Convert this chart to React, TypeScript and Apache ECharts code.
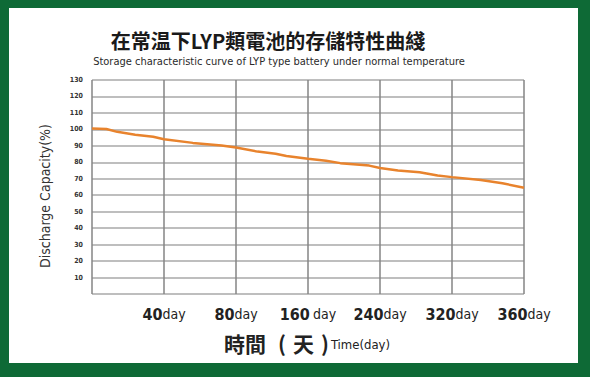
import React, { useEffect, useRef } from "react";
import * as echarts from "echarts";

const titleZh = "在常温下LYP類電池的存儲特性曲綫";
const titleEn = "Storage characteristic curve of LYP type battery under normal temperature";
const yAxisName = "Discharge Capacity(%)";
const xTickNumbers = ["", "40", "80", "160", "240", "320", "360"];
const xTickSeparators = ["", "", "", " ", "", "", ""];
const xTickUnit = "day";
// position along the (evenly spaced) time axis, in grid columns
const curvePositions = [0, 0.2, 0.35, 0.6, 0.85, 1.0, 1.4, 1.8, 2.0, 2.3, 2.55, 2.7, 3.0, 3.25, 3.45, 3.85, 4.0, 4.25, 4.55, 4.8, 5.0, 5.4, 5.7, 6.0];
const curveCapacity = [100.5, 100.2, 98.5, 96.8, 95.5, 94, 91.8, 90.2, 89, 86.5, 85.2, 83.8, 82.2, 81, 79.5, 78, 76.5, 75, 74, 72, 71, 69.2, 67.3, 64.5];

const FONT = "'Liberation Sans Narrow', 'DejaVu Sans Condensed', 'Liberation Sans', sans-serif";
const CJK = "'Noto Sans CJK TC', 'Noto Sans CJK SC', sans-serif";

export default function App() {
  const ref = useRef<HTMLDivElement>(null);
  useEffect(() => {
    if (!ref.current) return;
    const chart = echarts.init(ref.current, null, { renderer: "svg" });
    const data = curvePositions.map((p, i) => [p, curveCapacity[i]]);
    chart.setOption({
      animation: false,
      backgroundColor: "#0e6a36",
      grid: { left: 92, top: 80, right: 66, bottom: 83 },
      graphic: [
        { type: "rect", z: -10, shape: { x: 9, y: 8, width: 569, height: 355 }, style: { fill: "#ffffff" } },
        {
          type: "text", x: 268, y: 40,
          style: { text: titleZh, font: `bold 20px ${CJK}`, fill: "#1a1a1a", align: "center", verticalAlign: "middle" },
        },
        {
          type: "text", x: 279, y: 61,
          style: { text: titleEn, font: `11px ${FONT}`, fill: "#2a2a2a", align: "center", verticalAlign: "middle" },
        },
        {
          type: "text", x: 45, y: 196, rotation: Math.PI / 2,
          style: { text: yAxisName, font: `14px ${FONT}`, fill: "#333", align: "center", verticalAlign: "middle" },
        },
        {
          type: "text", x: 224, y: 343,
          style: {
            text: "{z|時間}{p|(}{t|天}{q|)}{e|Time(day)}",
            align: "left", verticalAlign: "middle",
            rich: {
              z: { font: `bold 21px ${CJK}`, fill: "#222" },
              p: { font: `bold 21px ${CJK}`, fill: "#222", padding: [0, 0, 0, 12] },
              t: { font: `bold 21px ${CJK}`, fill: "#222", padding: [0, 0, 0, 7] },
              q: { font: `bold 21px ${CJK}`, fill: "#222", padding: [0, 0, 0, 7] },
              e: { font: `13px ${FONT}`, fill: "#222", padding: [3, 0, 0, 2] },
            },
          },
        },
      ],
      xAxis: {
        type: "value", min: 0, max: 6, interval: 1,
        axisLine: { show: false }, axisTick: { show: false },
        splitLine: { show: true, lineStyle: { color: "#858585", width: 1.5 } },
        axisLabel: {
          margin: 12,
          formatter: (v: number) => {
            const i = Math.round(v);
            if (!xTickNumbers[i]) return "";
            return `{n|${xTickNumbers[i]}}${xTickSeparators[i]}{d|${xTickUnit}}`;
          },
          rich: {
            n: { fontFamily: FONT, fontWeight: "bold", fontSize: 16, color: "#222" },
            d: { fontFamily: FONT, fontSize: 14, color: "#222" },
          },
        },
      },
      yAxis: {
        type: "value", min: 0, max: 130, interval: 10,
        axisLine: { show: false }, axisTick: { show: false },
        splitLine: { show: true, lineStyle: { color: "#a8a8a8", width: 1.5 } },
        axisLabel: {
          margin: 9, fontSize: 7, fontWeight: "bold", color: "#333", fontFamily: FONT,
          formatter: (v: number) => (v === 0 ? "" : String(v)),
        },
      },
      series: [
        {
          type: "line", data, showSymbol: false, smooth: false,
          lineStyle: { color: "#e8832d", width: 2.5 },
        },
      ],
    });
    return () => chart.dispose();
  }, []);
  return <div ref={ref} style={{ position: "fixed", left: 0, top: 0, width: 590, height: 377 }} />;
}
